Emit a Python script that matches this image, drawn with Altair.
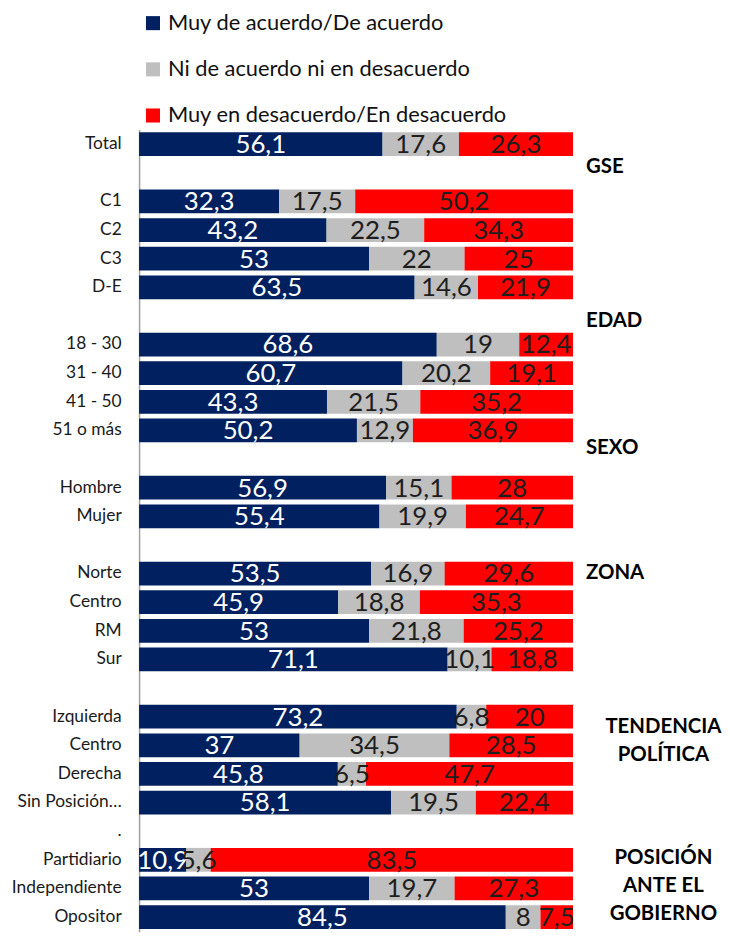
import altair as alt
import pandas as pd

# ---------------- data ----------------
series = ["Muy de acuerdo/De acuerdo", "Ni de acuerdo ni en desacuerdo",
          "Muy en desacuerdo/En desacuerdo"]
colors = ["#002060", "#BFBFBF", "#FF0000"]

# row order of the axis (text after "|" only keeps keys unique; blank rows are gaps)
rows = ["Total", "|b1", "C1", "C2", "C3", "D-E", "|b2",
        "18 - 30", "31 - 40", "41 - 50", "51 o más", "|b3",
        "Hombre", "Mujer", "|b4",
        "Norte", "Centro|z", "RM", "Sur", "|b5",
        "Izquierda", "Centro|t", "Derecha", "Sin Posición…", ".",
        "Partidiario", "Independiente", "Opositor"]

cats = ["Total", "C1", "C2", "C3", "D-E",
        "18 - 30", "31 - 40", "41 - 50", "51 o más",
        "Hombre", "Mujer",
        "Norte", "Centro|z", "RM", "Sur",
        "Izquierda", "Centro|t", "Derecha", "Sin Posición…",
        "Partidiario", "Independiente", "Opositor"]
acuerdo = [56.1, 32.3, 43.2, 53, 63.5,
           68.6, 60.7, 43.3, 50.2,
           56.9, 55.4,
           53.5, 45.9, 53, 71.1,
           73.2, 37, 45.8, 58.1,
           10.9, 53, 84.5]
neutral = [17.6, 17.5, 22.5, 22, 14.6,
           19, 20.2, 21.5, 12.9,
           15.1, 19.9,
           16.9, 18.8, 21.8, 10.1,
           6.8, 34.5, 6.5, 19.5,
           5.6, 19.7, 8]
desacuerdo = [26.3, 50.2, 34.3, 25, 21.9,
              12.4, 19.1, 35.2, 36.9,
              28, 24.7,
              29.6, 35.3, 25.2, 18.8,
              20, 28.5, 47.7, 22.4,
              83.5, 27.3, 7.5]

sec_labels = ["GSE", "EDAD", "SEXO", "ZONA",
              "TENDENCIA", "POLÍTICA",
              "POSICIÓN", "ANTE EL", "GOBIERNO"]
sec_rows = ["|b1", "|b2", "|b3", "Norte",
            "Izquierda", "Centro|t",
            "Partidiario", "Independiente", "Opositor"]

# ---------------- build table ----------------
recs = []
for i, c in enumerate(cats):
    for k, vals in enumerate([acuerdo, neutral, desacuerdo]):
        recs.append({"cat": c, "seg": series[k], "ord": k, "value": vals[i]})
df = pd.DataFrame(recs)

FONT = "Lato"
W, H = 437, 808

yenc = alt.Y("cat:N",
             scale=alt.Scale(domain=rows, paddingInner=0.17, paddingOuter=0.1),
             axis=alt.Axis(title=None, labelExpr="split(datum.value, '|')[0]",
                           labelFont=FONT, labelFontSize=17.5, labelColor="#1a1a1a",
                           ticks=False, labelPadding=18, domainColor="#A0A0A0",
                           domainWidth=1.5, grid=False))
xscale = alt.Scale(domain=[0, 100], nice=False, zero=True)

bars = alt.Chart(df).mark_bar(cornerRadius=0).encode(
    y=yenc,
    x=alt.X("value:Q", stack="zero", scale=xscale, axis=None),
    color=alt.Color("seg:N", scale=alt.Scale(domain=series, range=colors),
                    legend=alt.Legend(title=None, orient="none", legendX=3, legendY=-118,
                                      direction="vertical", symbolType="square",
                                      symbolSize=200, symbolStrokeWidth=0,
                                      labelFont=FONT, labelFontSize=22,
                                      labelColor="#111111", labelOffset=4,
                                      rowPadding=24.5, labelLimit=500)),
    order=alt.Order("ord:Q"),
)

labels = alt.Chart(df).transform_stack(
    stack="value", groupby=["cat"], as_=["x0", "x1"],
    sort=[alt.SortField("ord", order="ascending")]
).transform_calculate(
    mid="(datum.x0 + datum.x1) / 2",
    lab="replace(toString(datum.value), '.', ',')"
).mark_text(font=FONT, fontSize=26, baseline="middle", dy=1).encode(
    y=yenc,
    x=alt.X("mid:Q", scale=xscale, axis=None),
    text="lab:N",
    color=alt.condition(alt.datum.ord == 0, alt.value("white"), alt.value("#1e1e1e")),
)

# section headings on the right
sec_style = [(-6, "left", 450), (5, "left", 450), (-11, "left", 450), (0, "left", 450),
             (10, "center", 528), (10, "center", 528),
             (-2, "center", 528), (-2, "center", 528), (-3, "center", 528)]
sec_layers = []
for t, r, (dy, al, xv) in zip(sec_labels, sec_rows, sec_style):
    sec_layers.append(
        alt.Chart(pd.DataFrame({"cat": [r], "t": [t]})).mark_text(
            font=FONT, fontSize=20.5, fontWeight="bold", color="#000000",
            align=al, baseline="middle", dy=dy
        ).encode(y=yenc, x=alt.value(xv), text="t:N")
    )

chart = alt.layer(bars, labels, *sec_layers).properties(
    width=W, height=H,
    autosize=alt.AutoSizeParams(type="none"),
    padding={"left": 132, "top": 119, "right": 150, "bottom": 0},
).configure_view(stroke=None)

chart.save("out.html", embed_options={"renderer": "svg", "actions": False})
